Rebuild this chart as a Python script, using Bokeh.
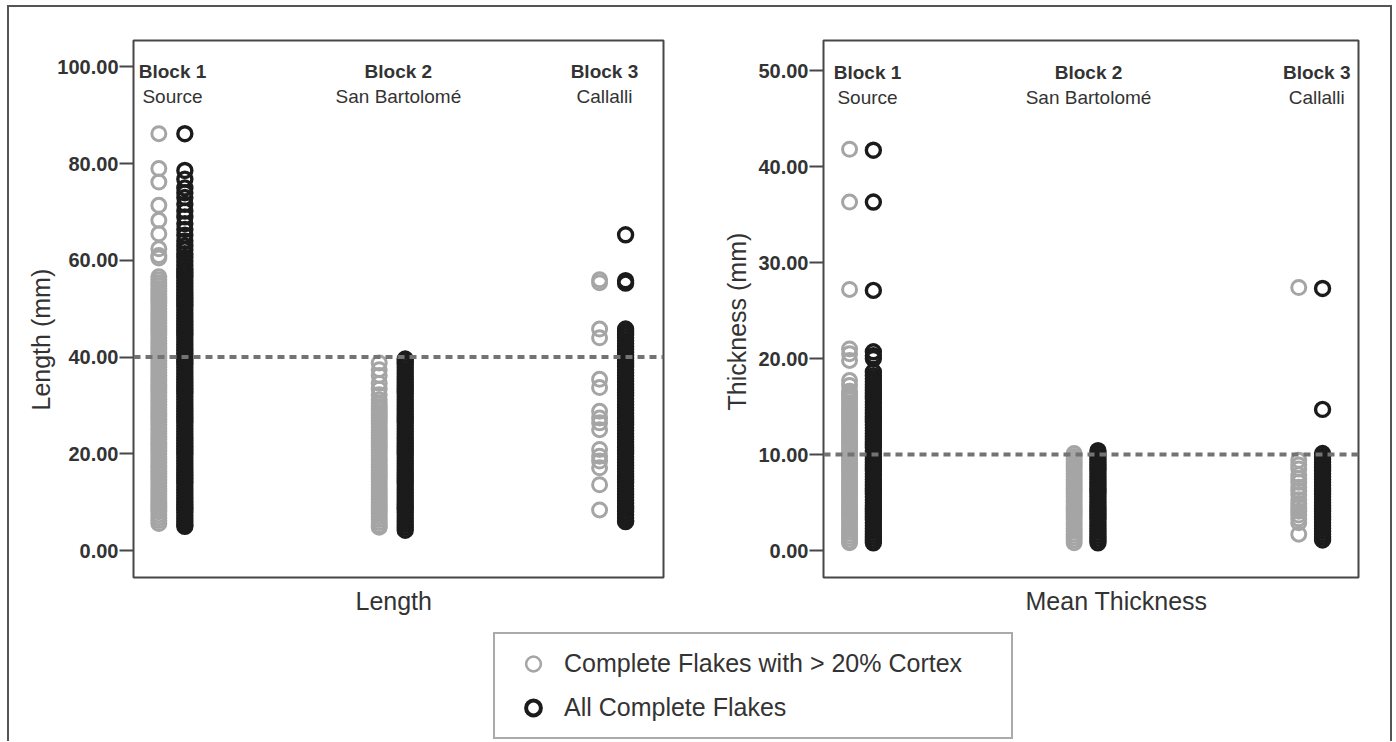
from bokeh.plotting import figure
from bokeh.models import (ColumnDataSource, FixedTicker, NumeralTickFormatter, Span,
                          Label, Legend, LegendItem, Title)
from bokeh.layouts import row, column
from bokeh.embed import file_html
from bokeh.resources import INLINE

# ---------------- data ----------------
block_names = ["Block 1", "Block 2", "Block 3"]
site_names = ["Source", "San Bartolomé", "Callalli"]
series_names = ["Complete Flakes with > 20% Cortex", "All Complete Flakes"]
panel_titles = ["Length", "Mean Thickness"]
y_titles = ["Length (mm)", "Thickness (mm)"]
length_ticks = [0, 20, 40, 60, 80, 100]
thick_ticks = [0, 10, 20, 30, 40, 50]
length_ref = 40.0
thick_ref = 10.0

# Length (mm), values
length_b1_cortex = [86.2, 79.0, 76.2, 71.4, 68.3, 65.5, 62.4, 61.0, 60.5,
                    56.6, 56.0, 55.4, 54.8, 54.2, 53.6, 53.0, 52.4, 51.8, 51.2, 50.6, 50.0,
                    49.4, 48.8, 48.2, 47.6, 47.0, 46.4, 45.8, 45.2, 44.6, 44.0, 43.4, 42.8,
                    42.2, 41.6, 41.0, 40.4, 39.8, 39.2, 38.6, 38.0, 37.4, 36.8, 36.2, 35.6,
                    35.0, 34.4, 33.8, 33.2, 32.6, 32.0, 31.4, 30.8, 30.2, 29.6, 29.0, 28.4,
                    27.8, 27.2, 26.6, 26.0, 25.4, 24.8, 24.2, 23.6, 23.0, 22.4, 21.8, 21.2,
                    20.6, 20.0, 19.4, 18.8, 18.2, 17.6, 17.0, 16.4, 15.8, 15.2, 14.6, 14.0,
                    13.4, 12.8, 12.2, 11.6, 11.0, 10.4, 9.8, 9.2, 8.6, 8.0, 7.4, 6.8, 6.2, 5.6]
length_b1_all = [86.2, 78.6, 76.8, 75.0, 74.0, 73.0, 71.6, 70.2, 69.0, 67.6, 66.4, 65.2,
                 64.0, 63.0, 62.2, 61.4, 60.6, 59.8, 59.0, 58.2,
                 57.6, 57.0, 56.4, 55.8, 55.2, 54.6, 54.0, 53.4, 52.8, 52.2, 51.6, 51.0,
                 50.4, 49.8, 49.2, 48.6, 48.0, 47.4, 46.8, 46.2, 45.6, 45.0, 44.4, 43.8,
                 43.2, 42.6, 42.0, 41.4, 40.8, 40.2, 39.6, 39.0, 38.4, 37.8, 37.2, 36.6,
                 36.0, 35.4, 34.8, 34.2, 33.6, 33.0, 32.4, 31.8, 31.2, 30.6, 30.0, 29.4,
                 28.8, 28.2, 27.6, 27.0, 26.4, 25.8, 25.2, 24.6, 24.0, 23.4, 22.8, 22.2,
                 21.6, 21.0, 20.4, 19.8, 19.2, 18.6, 18.0, 17.4, 16.8, 16.2, 15.6, 15.0,
                 14.4, 13.8, 13.2, 12.6, 12.0, 11.4, 10.8, 10.2, 9.6, 9.0, 8.4, 7.8, 7.2,
                 6.6, 6.0, 5.4, 5.0]
length_b2_cortex = [38.8, 37.4, 36.2, 34.6, 33.4, 32.2, 31.2,
                    30.4, 29.8, 29.2, 28.6, 28.0, 27.4, 26.8, 26.2, 25.6, 25.0, 24.4, 23.8,
                    23.2, 22.6, 22.0, 21.4, 20.8, 20.2, 19.6, 19.0, 18.4, 17.8, 17.2, 16.6,
                    16.0, 15.4, 14.8, 14.2, 13.6, 13.0, 12.4, 11.8, 11.2, 10.6, 10.0, 9.4,
                    8.8, 8.2, 7.6, 7.0, 6.4, 5.8, 5.2, 4.8]
length_b2_all = [39.6, 39.0, 38.4, 37.8, 37.2, 36.6, 36.0, 35.4, 34.8, 34.2, 33.6, 33.0,
                 32.4, 31.8, 31.2, 30.6, 30.0, 29.4, 28.8, 28.2, 27.6, 27.0, 26.4, 25.8,
                 25.2, 24.6, 24.0, 23.4, 22.8, 22.2, 21.6, 21.0, 20.4, 19.8, 19.2, 18.6,
                 18.0, 17.4, 16.8, 16.2, 15.6, 15.0, 14.4, 13.8, 13.2, 12.6, 12.0, 11.4,
                 10.8, 10.2, 9.6, 9.0, 8.4, 7.8, 7.2, 6.6, 6.0, 5.4, 4.8, 4.2]
length_b3_cortex = [56.0, 55.4, 45.8, 44.0, 35.4, 33.7, 28.8, 27.4, 26.4, 25.0, 20.9, 19.5,
                    18.5, 17.1, 13.6, 8.4]
length_b3_all = [65.3, 55.8, 55.3,
                 45.8, 45.2, 44.6, 44.0, 43.4, 42.8, 42.2, 41.6, 41.0, 40.4, 39.8, 39.2,
                 38.6, 38.0, 37.4, 36.8, 36.2, 35.6, 35.0, 34.4, 33.8, 33.2, 32.6, 32.0,
                 31.4, 30.8, 30.2, 29.6, 29.0, 28.4, 27.8, 27.2, 26.6, 26.0, 25.4, 24.8,
                 24.2, 23.6, 23.0, 22.4, 21.8, 21.2, 20.6, 20.0, 19.4, 18.8, 18.2, 17.6,
                 17.0, 16.4, 15.8, 15.2, 14.6, 14.0, 13.4, 12.8, 12.2, 11.6, 11.0, 10.4,
                 9.8, 9.2, 8.6, 8.0, 7.4, 6.8, 6.2, 6.0]

# Mean thickness (mm)
thick_b1_cortex = [41.8, 36.3, 27.2, 21.0, 20.5, 19.8, 17.7, 17.2,
                   16.6, 16.3, 16.0, 15.7, 15.4, 15.1, 14.8, 14.5, 14.2, 13.9, 13.6, 13.3,
                   13.0, 12.7, 12.4, 12.1, 11.8, 11.5, 11.2, 10.9, 10.6, 10.3, 10.0, 9.7,
                   9.4, 9.1, 8.8, 8.5, 8.2, 7.9, 7.6, 7.3, 7.0, 6.7, 6.4, 6.1, 5.8, 5.5,
                   5.2, 4.9, 4.6, 4.3, 4.0, 3.7, 3.4, 3.1, 2.8, 2.5, 2.2, 1.9, 1.6, 1.3,
                   1.0, 0.8]
thick_b1_all = [41.7, 36.3, 27.1, 20.7, 20.3, 20.0, 18.6,
                18.2, 17.9, 17.6, 17.3, 17.0, 16.7, 16.4, 16.1, 15.8, 15.5, 15.2, 14.9,
                14.6, 14.3, 14.0, 13.7, 13.4, 13.1, 12.8, 12.5, 12.2, 11.9, 11.6, 11.3,
                11.0, 10.7, 10.4, 10.1, 9.8, 9.5, 9.2, 8.9, 8.6, 8.3, 8.0, 7.7, 7.4, 7.1,
                6.8, 6.5, 6.2, 5.9, 5.6, 5.3, 5.0, 4.7, 4.4, 4.1, 3.8, 3.5, 3.2, 2.9,
                2.6, 2.3, 2.0, 1.7, 1.4, 1.1, 0.8]
thick_b2_cortex = [10.1, 9.8, 9.5, 9.2, 8.9, 8.6, 8.3, 8.0, 7.7, 7.4, 7.1, 6.8, 6.5, 6.2,
                   5.9, 5.6, 5.3, 5.0, 4.7, 4.4, 4.1, 3.8, 3.5, 3.2, 2.9, 2.6, 2.3, 2.0,
                   1.7, 1.4, 1.1, 0.8]
thick_b2_all = [10.4, 10.1, 9.8, 9.5, 9.2, 8.9, 8.6, 8.3, 8.0, 7.7, 7.4, 7.1, 6.8, 6.5,
                6.2, 5.9, 5.6, 5.3, 5.0, 4.7, 4.4, 4.1, 3.8, 3.5, 3.2, 2.9, 2.6, 2.3,
                2.0, 1.7, 1.4, 1.1, 0.8]
thick_b3_cortex = [27.4, 9.4, 8.9, 8.5, 7.9, 7.5, 7.1, 6.6, 6.2, 5.8, 5.3, 4.9, 4.5, 4.1,
                   3.7, 3.3, 2.9, 1.7]
thick_b3_all = [27.3, 14.7,
                10.1, 9.8, 9.5, 9.2, 8.9, 8.6, 8.3, 8.0, 7.7, 7.4, 7.1, 6.8, 6.5, 6.2,
                5.9, 5.6, 5.3, 5.0, 4.7, 4.4, 4.1, 3.8, 3.5, 3.2, 2.9, 2.6, 2.3, 2.0,
                1.7, 1.4, 1.1]

length_cortex = [length_b1_cortex, length_b2_cortex, length_b3_cortex]
length_all = [length_b1_all, length_b2_all, length_b3_all]
thick_cortex = [thick_b1_cortex, thick_b2_cortex, thick_b3_cortex]
thick_all = [thick_b1_all, thick_b2_all, thick_b3_all]

# ---------------- style ----------------
FONT = "Liberation Sans"
GRAY = "#a5a5a5"
BLACK = "#1b1b1b"
TEXT = "#333333"
FRAME = "#474747"
DASH = "#737373"


def to_source(per_block, offset):
    xs, ys = [], []
    for i, vals in enumerate(per_block):
        xs += [i + offset] * len(vals)
        ys += list(vals)
    return ColumnDataSource(data=dict(x=xs, y=ys))


def text_label(x, y, text, size, style="normal"):
    return Label(x=x, y=y, text=text, text_font=FONT, text_font_style=style,
                 text_font_size=size, text_color=TEXT, text_align="center",
                 text_baseline="middle")


def make_title(text, offset, standoff):
    return Title(text=text, align="left", offset=offset, standoff=standoff,
                 text_font=FONT, text_font_size="25px", text_font_style="normal",
                 text_color=TEXT)


def make_panel(width, mb_left, mb_right, x_range, y_range, ticks, ref, ytitle, xtitle,
               cortex, allf, black_off, label_x, label_y, ytitle_off, xtitle_off):
    p = figure(width=width, height=618, x_range=x_range, y_range=y_range,
               output_backend="svg", toolbar_location=None, x_axis_location=None,
               min_border_left=mb_left, min_border_right=mb_right,
               min_border_top=33, min_border_bottom=48)
    p.grid.visible = False
    p.outline_line_color = FRAME
    p.outline_line_width = 2
    p.background_fill_color = "white"
    p.border_fill_color = "white"

    ya = p.yaxis[0]
    ya.ticker = FixedTicker(ticks=ticks)
    ya.formatter = NumeralTickFormatter(format="0.00")
    ya.major_label_text_font = FONT
    ya.major_label_text_font_style = "bold"
    ya.major_label_text_font_size = "20px"
    ya.major_label_text_color = TEXT
    ya.major_label_standoff = 1
    ya.major_tick_out = 14
    ya.major_tick_in = 0
    ya.major_tick_line_width = 2
    ya.major_tick_line_color = FRAME
    ya.minor_tick_line_color = None
    ya.axis_line_color = None

    p.scatter("x", "y", source=to_source(cortex, 0.0), marker="circle", size=14,
              fill_color=None, line_color=GRAY, line_width=3)
    p.scatter("x", "y", source=to_source(allf, black_off), marker="circle", size=14,
              fill_color=None, line_color=BLACK, line_width=3.4)

    p.add_layout(Span(location=ref, dimension="width", line_color=DASH,
                      line_width=4, line_dash="7 5"))

    for i in range(3):
        p.add_layout(text_label(label_x[i], label_y[0], block_names[i], "19px", "bold"))
        p.add_layout(text_label(label_x[i], label_y[1], site_names[i], "19px"))

    p.add_layout(make_title(ytitle, ytitle_off[0], ytitle_off[1]), "left")
    p.add_layout(make_title(xtitle, xtitle_off[0], xtitle_off[1]), "below")
    return p


p1 = make_panel(691, 124, 37, (-0.115, 2.290), (-5.58, 105.48), length_ticks, length_ref,
                y_titles[0], panel_titles[0], length_cortex, length_all, 0.118,
                [0.062, 1.087, 2.022], [99.1, 93.9], (167, 0), (222, 15))
p2 = make_panel(690, 123, 32, (-0.116, 2.266), (-2.81, 53.13), thick_ticks, thick_ref,
                y_titles[1], panel_titles[1], thick_cortex, thick_all, 0.106,
                [0.080, 1.064, 2.080], [49.8, 47.2], (167, 10), (202, 15))

# legend panel
p3 = figure(width=1381, height=116, x_range=(0, 1), y_range=(0, 1),
            output_backend="svg", toolbar_location=None,
            x_axis_type=None, y_axis_type=None, min_border=0)
p3.grid.visible = False
p3.outline_line_color = None
r1 = p3.scatter("x", "y", source=to_source(length_cortex, 0.0), marker="circle", size=15,
                fill_color=None, line_color=GRAY, line_width=2.5, visible=False)
r2 = p3.scatter("x", "y", source=to_source(length_all, 0.0), marker="circle", size=15,
                fill_color=None, line_color=BLACK, line_width=4, visible=False)
legend = Legend(items=[LegendItem(label=series_names[0], renderers=[r1]),
                       LegendItem(label=series_names[1], renderers=[r2])],
                location=(484, 2), orientation="vertical", margin=0,
                padding=11, spacing=7, glyph_width=54, glyph_height=37,
                label_standoff=4, label_width=436, label_height=30,
                label_text_font=FONT, label_text_font_size="25px",
                label_text_color=TEXT, border_line_color="#555555",
                border_line_width=2, background_fill_color="white",
                background_fill_alpha=1.0, inactive_fill_alpha=0.0)
p3.add_layout(legend, "center")

layout = column(row(p1, p2), p3,
                styles={"margin-left": "7px", "margin-top": "5px",
                        "border-top": "2px solid #555555",
                        "border-left": "2px solid #555555",
                        "border-right": "2px solid #555555"})

open("out.html", "w").write(file_html(layout, INLINE))
